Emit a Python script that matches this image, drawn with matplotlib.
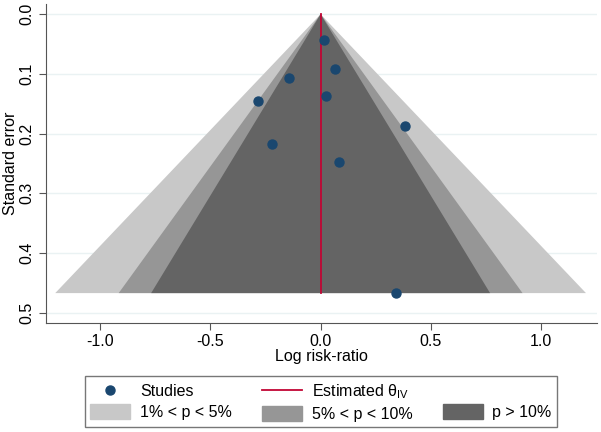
import matplotlib.pyplot as plt
import matplotlib.patches as mpatches
from matplotlib.lines import Line2D

# Study estimates
log_rr = [0.015, 0.066, -0.142, -0.286, 0.024, 0.383, -0.219, 0.084, 0.340]
std_err = [0.044, 0.091, 0.107, 0.146, 0.137, 0.188, 0.217, 0.248, 0.467]
theta = 0.0

contour_labels = ['1% < p < 5%', '5% < p < 10%', 'p > 10%']
contour_z = [2.576, 1.960, 1.645]
contour_colors = ['#c8c8c8', '#969696', '#646464']

x_ticks = [-1.0, -0.5, 0.0, 0.5, 1.0]
y_ticks = [0.0, 0.1, 0.2, 0.3, 0.4, 0.5]

plt.rcParams['font.family'] = 'Liberation Sans'
plt.rcParams['mathtext.fontset'] = 'custom'
plt.rcParams['mathtext.rm'] = 'Liberation Sans'
fs = 11.5

fig = plt.figure(figsize=(6.01, 4.32), dpi=100)
ax = fig.add_axes([0.0765, 0.2516, 0.9165, 0.739])

# grid lines
for t in y_ticks:
    ax.axhline(t, color='#eaf2f3', lw=1.0, zorder=0)

# contour funnels, widest first
se_max = max(std_err)
for z, c in zip(contour_z, contour_colors):
    ax.fill([theta - z * se_max, theta, theta + z * se_max],
            [se_max, 0, se_max], color=c, lw=0, zorder=1)

ax.plot([theta, theta], [0, se_max], color='#c10534', lw=1.3, zorder=2)
ax.scatter(log_rr, std_err, s=42, color='#1a476f', zorder=3)

ax.set_xlim(-1.245, 1.252)
ax.set_ylim(0.5176, -0.017)
ax.set_xticks(x_ticks)
ax.set_xticklabels(['%.1f' % t for t in x_ticks], fontsize=fs)
ax.set_yticks(y_ticks)
ax.set_yticklabels(['%.1f' % t for t in y_ticks], fontsize=fs, rotation=90, va='center')
ax.tick_params(length=5, color='#555555', pad=3)
for s in ['top', 'right']:
    ax.spines[s].set_visible(False)
for s in ['left', 'bottom']:
    ax.spines[s].set_color('#555555')
ax.set_xlabel('Log risk-ratio', fontsize=fs, labelpad=0)
ax.set_ylabel('Standard error', fontsize=fs, labelpad=1)

handles = [
    Line2D([], [], marker='o', ls='', color='#1a476f', markersize=6.5),
    mpatches.Patch(color=contour_colors[0]),
    Line2D([], [], color='#c10534', lw=1.3),
    mpatches.Patch(color=contour_colors[1]),
    mpatches.Patch(color='none'),
    mpatches.Patch(color=contour_colors[2]),
]
labels = ['Studies', contour_labels[0], r'Estimated θ$_{\mathrm{IV}}$',
          contour_labels[1], '', contour_labels[2]]
leg = fig.legend(handles, labels, ncol=3, loc='lower left',
                 bbox_to_anchor=(0.141, 0.011, 0.786, 0.119), mode='expand',
                 borderaxespad=0,
                 fontsize=fs, frameon=True, fancybox=False,
                 edgecolor='#555555', handlelength=2.5, handleheight=1.1,
                 handletextpad=0.6, borderpad=0.35, labelspacing=0.3,
                 columnspacing=1.0)
leg.get_frame().set_linewidth(1.0)

fig.savefig('out.png', dpi=100)
